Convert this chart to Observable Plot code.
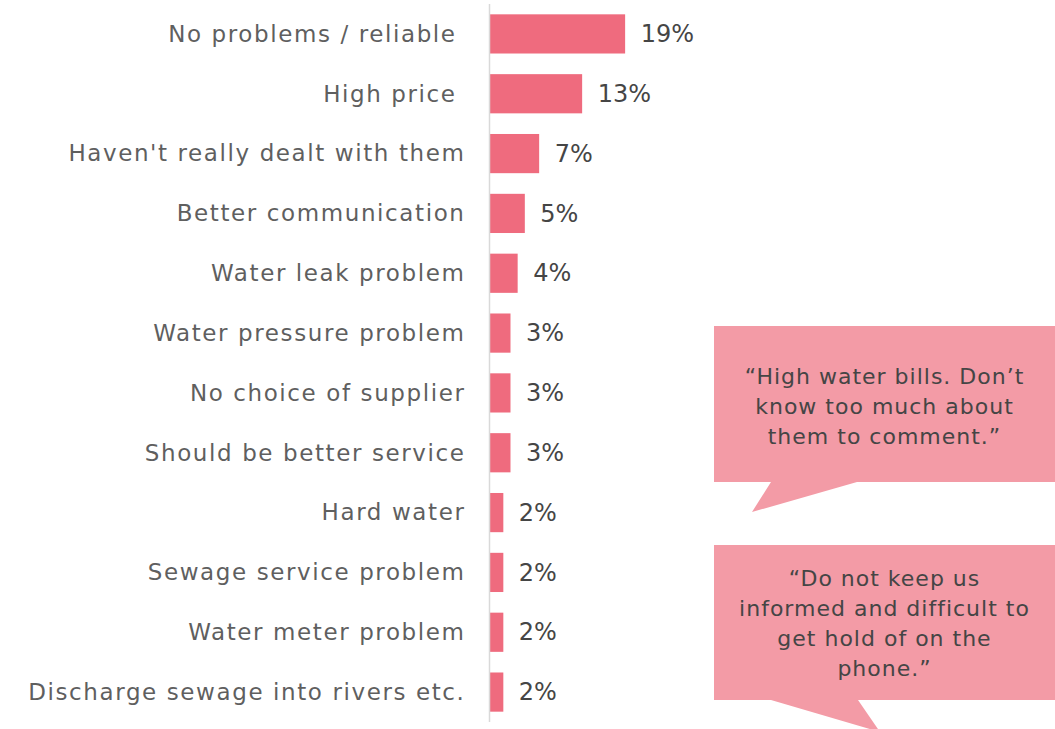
<!DOCTYPE html>
<html>
<head>
<meta charset="utf-8">
<script src="https://cdn.jsdelivr.net/npm/d3@7"></script>
<script src="https://cdn.jsdelivr.net/npm/@observablehq/plot@0.6"></script>
<style>
  html, body { margin: 0; padding: 0; background: #fff; }
  #wrap { position: relative; width: 1055px; height: 729px; overflow: hidden; }
  #overlay { position: absolute; left: 0; top: 0; }
  #wrap svg [aria-label="y-axis tick label"] text { letter-spacing: 1.6px; }
</style>
</head>
<body>
<div id="wrap"></div>
<script>
const categories = [
  "No problems / reliable ",
  "High price ",
  "Haven't really dealt with them",
  "Better communication",
  "Water leak problem",
  "Water pressure problem",
  "No choice of supplier",
  "Should be better service",
  "Hard water",
  "Sewage service problem",
  "Water meter problem",
  "Discharge sewage into rivers etc."
];
const values = [19, 13, 7, 5, 4, 3, 3, 3, 2, 2, 2, 2];
const quote1 = ["\u201CHigh water bills. Don\u2019t", "know too much about", "them to comment.\u201D"];
const quote2 = ["\u201CDo not keep us", "informed and difficult to", "get hold of on the", "phone.\u201D"];

const data = categories.map((c, i) => ({category: c, value: values[i], label: values[i] + "%"}));
const FONT = "'DejaVu Sans', sans-serif";

const chart = Plot.plot({
  width: 1055,
  height: 729,
  marginLeft: 489,
  marginRight: 0,
  marginTop: 4,
  marginBottom: 7,
  style: {fontFamily: FONT, background: "#fff"},
  x: {domain: [0, 79], axis: null},
  y: {domain: categories, paddingInner: 0.345, paddingOuter: 0.1725, round: false, label: null},
  marks: [
    Plot.barX(data, {y: "category", x: "value", fill: "#EF6B7E"}),
    Plot.ruleX([0], {stroke: "#D9D9D9", strokeWidth: 1.5}),
    Plot.text(data, {y: "category", x: "value", text: "label", textAnchor: "start", dx: 15, fontSize: 24, fill: "#454545"}),
    Plot.axisY({tickSize: 0, tickPadding: 24, fontSize: 23, color: "#5f5f5f", label: null})
  ]
});
chart.style.fontFamily = FONT;
document.getElementById("wrap").appendChild(chart);

// Speech-bubble callouts (annotations)
const ov = d3.select("#wrap").append("svg")
  .attr("id", "overlay").attr("width", 1055).attr("height", 729);

function bubble(x0, y0, x1, y1, tail, lines, cy, lh) {
  const pts = [[x0, y0], [x1, y0], [x1, y1], [tail[1], y1], tail[2], [tail[0], y1], [x0, y1]];
  ov.append("polygon").attr("points", pts.map(p => p.join(",")).join(" ")).attr("fill", "#F39BA6");
  const cx = (x0 + x1) / 2;
  const start = cy - (lines.length - 1) * lh / 2;
  lines.forEach((t, i) => {
    ov.append("text").attr("x", cx).attr("y", start + i * lh)
      .attr("text-anchor", "middle").attr("dominant-baseline", "central")
      .attr("font-family", FONT).attr("font-size", 22).style("letter-spacing", "1px")
      .attr("fill", "#454545").text(t);
  });
}
bubble(714, 326, 1055, 482, [771, 857, [752, 512]], quote1, 406, 30);
bubble(714, 545, 1055, 700, [771, 858, [880, 732]], quote2, 623, 30);
</script>
</body>
</html>
